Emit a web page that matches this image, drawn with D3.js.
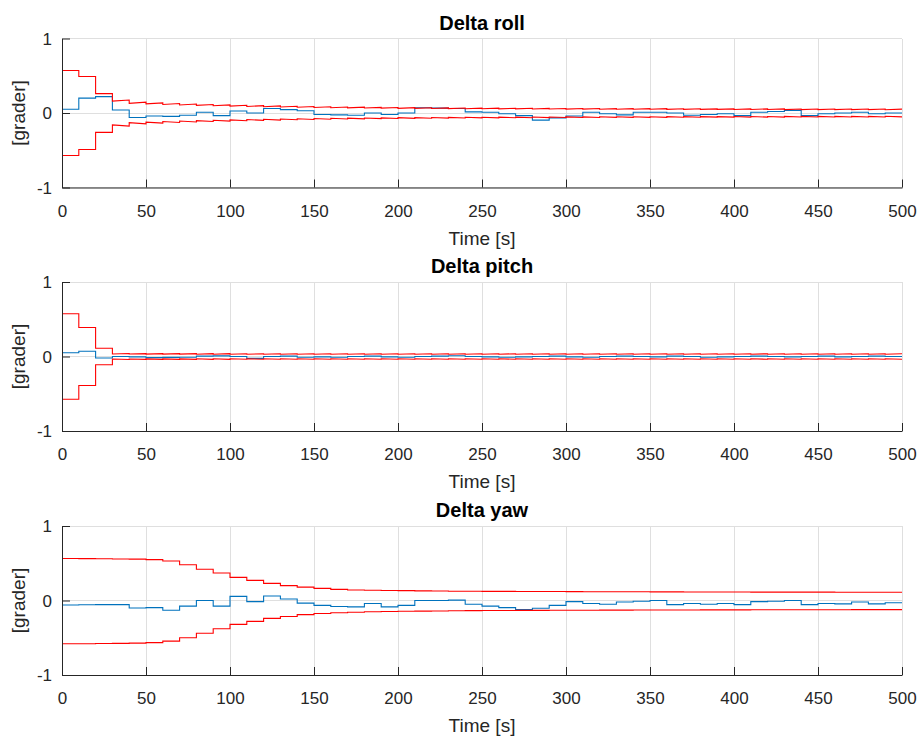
<!DOCTYPE html>
<html>
<head>
<meta charset="utf-8">
<script src="https://cdn.jsdelivr.net/npm/d3@7"></script>
<style>
  body { margin: 0; background: #fff; }
  svg { font-family: "Liberation Sans", Arial, Helvetica, sans-serif; }
</style>
</head>
<body>
<div id="chart"></div>
<script>
// sample times: one estimate per 10 s update, 0..490
const times = d3.range(0, 500, 10);
const xTicks = [0, 50, 100, 150, 200, 250, 300, 350, 400, 450, 500];
const yTicks = [-1, 0, 1];

// Delta roll
const rollEst = [0.05, 0.20, 0.22, 0.04, -0.06, -0.04, -0.045, -0.03, 0.01, -0.035,
  0.027, 0.0, 0.06, 0.045, 0.03, -0.02, -0.025, -0.03, 0.0, -0.02,
  0.0, 0.07, 0.065, 0.06, 0.015, 0.01, -0.01, -0.035, -0.095, -0.065,
  -0.04, 0.01, -0.01, -0.025, 0.01, 0.01, 0.0, -0.03, -0.02, -0.01,
  -0.035, 0.01, 0.02, 0.035, -0.035, -0.01, 0.0, 0.01, -0.01, 0.0];
const rollSigStart = [0.57, 0.49, 0.26, 0.16, 0.13, 0.122, 0.115, 0.108, 0.102, 0.097,
  0.092, 0.088, 0.084, 0.080, 0.077, 0.074, 0.071, 0.069, 0.067, 0.065,
  0.063, 0.062, 0.060, 0.059, 0.058, 0.057, 0.056, 0.055, 0.054, 0.053,
  0.052, 0.052, 0.051, 0.051, 0.050, 0.050, 0.049, 0.049, 0.048, 0.048,
  0.047, 0.047, 0.047, 0.046, 0.046, 0.046, 0.045, 0.045, 0.045, 0.044];
const rollSigEnd = [0.57, 0.49, 0.26, 0.175, 0.145, 0.136, 0.128, 0.121, 0.114, 0.109,
  0.104, 0.099, 0.095, 0.091, 0.087, 0.084, 0.081, 0.078, 0.076, 0.074,
  0.072, 0.070, 0.068, 0.067, 0.066, 0.065, 0.064, 0.063, 0.062, 0.061,
  0.060, 0.060, 0.059, 0.059, 0.058, 0.058, 0.057, 0.057, 0.056, 0.056,
  0.055, 0.055, 0.055, 0.054, 0.054, 0.054, 0.053, 0.053, 0.053, 0.052];

// Delta pitch
const pitchEst = [0.05, 0.07, -0.02, 0.0, -0.005, -0.015, -0.012, -0.01, 0.005, 0.008,
  0.0, -0.025, 0.0, 0.005, -0.01, -0.005, -0.01, 0.0, 0.005, -0.005,
  -0.01, 0.0, 0.005, 0.01, 0.0, -0.005, -0.01, -0.005, 0.0, 0.005,
  -0.005, -0.01, 0.0, 0.005, 0.0, -0.005, 0.005, 0.0, -0.01, -0.005,
  0.0, 0.005, 0.0, -0.005, 0.0, 0.005, -0.005, 0.0, 0.005, 0.0];
const pitchSigStart = [0.574, 0.39, 0.11, 0.033, 0.033, 0.032, 0.032, 0.032, 0.031, 0.031,
  0.031, 0.031, 0.031, 0.030, 0.030, 0.030, 0.030, 0.030, 0.030, 0.030,
  0.030, 0.030, 0.030, 0.030, 0.030, 0.030, 0.030, 0.030, 0.030, 0.030,
  0.030, 0.030, 0.030, 0.030, 0.030, 0.030, 0.030, 0.030, 0.030, 0.030,
  0.030, 0.030, 0.030, 0.030, 0.030, 0.030, 0.030, 0.030, 0.030, 0.030];
const pitchSigEnd = [0.574, 0.39, 0.11, 0.040, 0.039, 0.039, 0.038, 0.038, 0.038, 0.038,
  0.037, 0.037, 0.037, 0.037, 0.037, 0.037, 0.037, 0.037, 0.037, 0.037,
  0.037, 0.037, 0.037, 0.037, 0.037, 0.037, 0.037, 0.037, 0.037, 0.037,
  0.037, 0.037, 0.037, 0.037, 0.037, 0.037, 0.037, 0.037, 0.037, 0.037,
  0.037, 0.037, 0.037, 0.037, 0.037, 0.037, 0.037, 0.037, 0.037, 0.037];

// Delta yaw
const yawEst = [-0.06, -0.058, -0.056, -0.055, -0.1, -0.095, -0.13, -0.075, 0.0, -0.075,
  0.055, -0.015, 0.06, 0.02, -0.035, -0.065, -0.08, -0.085, -0.04, -0.085,
  -0.065, 0.0, 0.0, 0.005, -0.05, -0.075, -0.095, -0.12, -0.105, -0.065,
  -0.015, -0.04, -0.05, -0.02, -0.01, 0.0, -0.055, -0.04, -0.05, -0.04,
  -0.055, -0.015, -0.01, 0.0, -0.055, -0.04, -0.045, -0.02, -0.045, -0.03];
const yawHi = [0.563, 0.562, 0.560, 0.558, 0.555, 0.549, 0.53, 0.48, 0.42, 0.37,
  0.31, 0.27, 0.23, 0.20, 0.18, 0.163, 0.15, 0.14, 0.137, 0.134,
  0.132, 0.129, 0.127, 0.125, 0.124, 0.123, 0.122, 0.121, 0.120, 0.120,
  0.119, 0.118, 0.118, 0.117, 0.117, 0.116, 0.116, 0.115, 0.115, 0.114,
  0.114, 0.113, 0.113, 0.112, 0.112, 0.112, 0.111, 0.111, 0.110, 0.110];
const yawLo = [-0.58, -0.58, -0.578, -0.576, -0.572, -0.565, -0.545, -0.5, -0.44, -0.38,
  -0.32, -0.28, -0.24, -0.215, -0.19, -0.175, -0.165, -0.158, -0.152, -0.148,
  -0.145, -0.142, -0.140, -0.138, -0.136, -0.135, -0.134, -0.133, -0.132, -0.131,
  -0.130, -0.130, -0.129, -0.129, -0.128, -0.128, -0.127, -0.127, -0.126, -0.126,
  -0.126, -0.125, -0.125, -0.125, -0.124, -0.124, -0.124, -0.123, -0.123, -0.123];

const panels = [
  { title: 'Delta roll', top: 38.5, est: rollEst,
    hiStart: rollSigStart, hiEnd: rollSigEnd,
    loStart: rollSigStart.map(v => -v), loEnd: rollSigEnd.map(v => -v) },
  { title: 'Delta pitch', top: 282, est: pitchEst,
    hiStart: pitchSigStart, hiEnd: pitchSigEnd,
    loStart: pitchSigStart.map(v => -v), loEnd: pitchSigEnd.map(v => -v) },
  { title: 'Delta yaw', top: 526, est: yawEst,
    hiStart: yawHi, hiEnd: yawHi, loStart: yawLo, loEnd: yawLo }
];

const width = 920, height = 736;
const left = 62, right = 902, plotH = 149;
const axisColor = '#262626', gridColor = '#dfdfdf';
const blue = '#0072BD', red = '#FF0000';

const svg = d3.select('#chart').append('svg')
  .attr('width', width).attr('height', height);

const x = d3.scaleLinear().domain([0, 500]).range([left, right]);

// interval start/end pairs -> step (or sawtooth) polyline
function stepPoints(start, end) {
  const pts = [];
  times.forEach((t, i) => {
    pts.push([t, start[i]]);
    pts.push([t + 10, end[i]]);
  });
  return pts;
}

panels.forEach((p, k) => {
  const y = d3.scaleLinear().domain([-1, 1]).range([p.top + plotH, p.top]);
  const g = svg.append('g');

  // grid
  g.append('g').selectAll('line').data(xTicks).join('line')
    .attr('x1', d => x(d)).attr('x2', d => x(d))
    .attr('y1', y(-1)).attr('y2', y(1))
    .attr('stroke', gridColor).attr('stroke-width', 1)
    .attr('shape-rendering', 'crispEdges');
  g.append('g').selectAll('line').data(yTicks).join('line')
    .attr('x1', left).attr('x2', right)
    .attr('y1', d => y(d)).attr('y2', d => y(d))
    .attr('stroke', gridColor).attr('stroke-width', 1)
    .attr('shape-rendering', 'crispEdges');

  const clipId = 'clip' + k;
  svg.append('clipPath').attr('id', clipId).append('rect')
    .attr('x', left).attr('y', p.top - 1).attr('width', right - left).attr('height', plotH + 2);

  const line = d3.line().x(d => x(d[0])).y(d => y(d[1]));
  const lines = g.append('g').attr('clip-path', `url(#${clipId})`)
    .attr('fill', 'none').attr('stroke-width', 1.1).attr('stroke-linejoin', 'miter');

  lines.append('path').attr('d', line(stepPoints(p.est, p.est))).attr('stroke', blue);
  lines.append('path').attr('d', line(stepPoints(p.hiStart, p.hiEnd))).attr('stroke', red);
  lines.append('path').attr('d', line(stepPoints(p.loStart, p.loEnd))).attr('stroke', red);

  // axes
  const xAxis = d3.axisBottom(x).tickValues(xTicks).tickSizeInner(-8).tickSizeOuter(0);
  const gx = g.append('g').attr('transform', `translate(0,${y(-1)})`).call(xAxis);
  const yAxis = d3.axisLeft(y).tickValues(yTicks).tickSizeInner(-8).tickSizeOuter(0)
    .tickFormat(d3.format('d'));
  const gy = g.append('g').attr('transform', `translate(${left},0)`).call(yAxis);
  [gx, gy].forEach(a => {
    a.select('.domain').attr('stroke', axisColor);
    a.selectAll('.tick line').attr('stroke', axisColor);
    a.selectAll('.tick text').attr('fill', axisColor).style('font-size', '17px');
  });
  gx.selectAll('.tick text').attr('dy', '0.71em').attr('y', 17);
  gy.selectAll('.tick text').attr('x', -10).attr('dy', '0.35em')
    .text(d => d < 0 ? '-' + Math.abs(d) : d);

  // labels
  g.append('text').attr('x', (left + right) / 2).attr('y', p.top + plotH + 57)
    .attr('text-anchor', 'middle').attr('fill', axisColor).style('font-size', '19px')
    .text('Time [s]');
  g.append('text')
    .attr('transform', `translate(25,${p.top + plotH / 2}) rotate(-90)`)
    .attr('text-anchor', 'middle').attr('fill', axisColor).style('font-size', '19px')
    .text('[grader]');
  g.append('text').attr('x', (left + right) / 2).attr('y', p.top - 9)
    .attr('text-anchor', 'middle').attr('fill', '#000').style('font-size', '20px')
    .style('font-weight', 'bold').text(p.title);
});
</script>
</body>
</html>
